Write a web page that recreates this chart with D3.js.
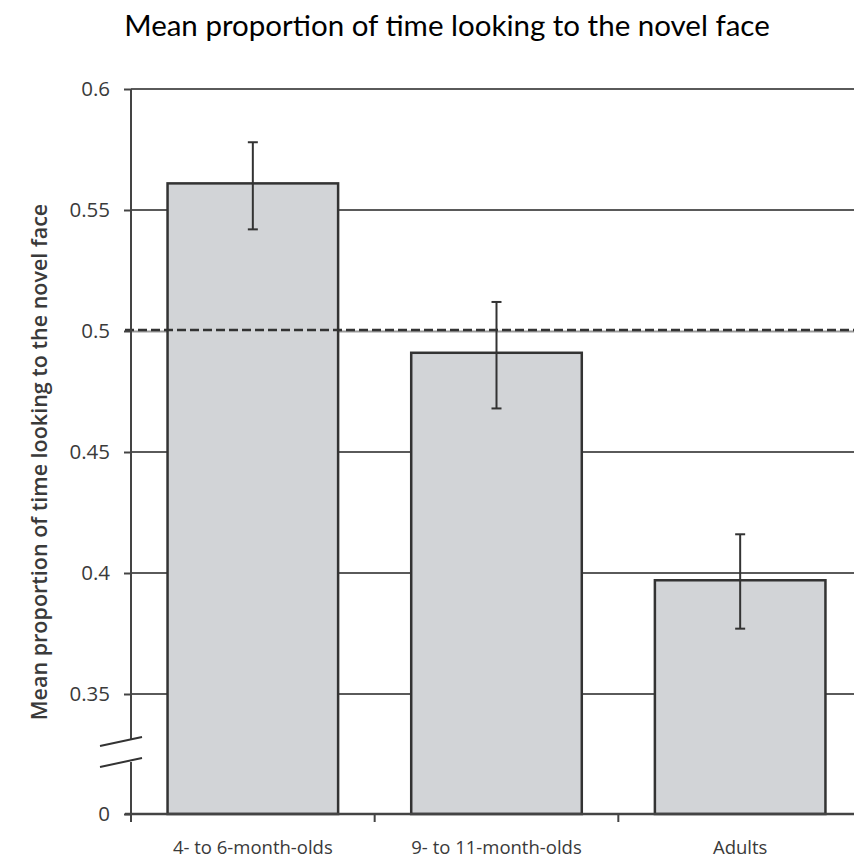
<!DOCTYPE html>
<html>
<head>
<meta charset="utf-8">
<script src="https://cdn.jsdelivr.net/npm/d3@7"></script>
<style>
  html, body { margin: 0; padding: 0; background: #fff; }
  svg { display: block; }
  text { font-family: "Open Sans", "Noto Sans", sans-serif; }
</style>
</head>
<body>
<svg id="chart" width="854" height="863"></svg>
<script>
// Groups and their mean proportion of looking time to the novel face
const categories = ["4- to 6-month-olds", "9- to 11-month-olds", "Adults"];
const means = [0.561, 0.491, 0.397];
const errLow = [0.542, 0.468, 0.377];
const errHigh = [0.578, 0.512, 0.416];
const chanceLevel = 0.5;
const yTickValues = [0, 0.35, 0.4, 0.45, 0.5, 0.55, 0.6];
const gridValues = [0.35, 0.4, 0.45, 0.55, 0.6];

const svg = d3.select("#chart");

const axisX = 131;
const rightEdge = 862;
const baseY = 814;

// Broken value axis: 0 sits below a break, then 0.35–0.6 is linear
const y = d3.scaleLinear()
  .domain([0, 0.35, 0.6])
  .range([baseY, 694, 89]);

const x = d3.scaleBand()
  .domain(categories)
  .range([axisX, rightEdge])
  .paddingInner(0.3)
  .paddingOuter(0.15);

const ink = "#3a3a3a";

// Title
svg.append("text")
  .attr("x", 447)
  .attr("y", 36)
  .attr("text-anchor", "middle")
  .style("font-family", "Lato, 'Open Sans', sans-serif")
  .attr("font-size", 29.5)
  .attr("fill", "#000")
  .text("Mean proportion of time looking to the novel face");

// Horizontal gridlines
svg.append("g")
  .selectAll("line")
  .data(gridValues)
  .join("line")
  .attr("x1", axisX)
  .attr("x2", 854)
  .attr("y1", d => y(d))
  .attr("y2", d => y(d))
  .attr("stroke", "#5a5a5a")
  .attr("stroke-width", 2);

// Lighter gridline under the chance-level line
svg.append("line")
  .attr("x1", axisX)
  .attr("x2", 854)
  .attr("y1", y(chanceLevel) + 0.5)
  .attr("y2", y(chanceLevel) + 0.5)
  .attr("stroke", "#9a9a9a")
  .attr("stroke-width", 2);

// Bars
svg.append("g")
  .selectAll("rect")
  .data(categories)
  .join("rect")
  .attr("x", d => x(d))
  .attr("y", (d, i) => y(means[i]))
  .attr("width", x.bandwidth())
  .attr("height", (d, i) => baseY - y(means[i]))
  .attr("fill", "#d2d4d7")
  .attr("stroke", "#333")
  .attr("stroke-width", 2.5);

// Error bars
const eb = svg.append("g")
  .selectAll("g")
  .data(categories)
  .join("g")
  .attr("stroke", "#333")
  .attr("stroke-width", 2);
eb.append("line")
  .attr("x1", d => x(d) + x.bandwidth() / 2)
  .attr("x2", d => x(d) + x.bandwidth() / 2)
  .attr("y1", (d, i) => y(errLow[i]))
  .attr("y2", (d, i) => y(errHigh[i]));
eb.append("line")
  .attr("x1", d => x(d) + x.bandwidth() / 2 - 5)
  .attr("x2", d => x(d) + x.bandwidth() / 2 + 5)
  .attr("y1", (d, i) => y(errHigh[i]))
  .attr("y2", (d, i) => y(errHigh[i]));
eb.append("line")
  .attr("x1", d => x(d) + x.bandwidth() / 2 - 5)
  .attr("x2", d => x(d) + x.bandwidth() / 2 + 5)
  .attr("y1", (d, i) => y(errLow[i]))
  .attr("y2", (d, i) => y(errLow[i]));

// Chance level reference line
svg.append("line")
  .attr("x1", 125)
  .attr("x2", 854)
  .attr("y1", y(chanceLevel) - 1)
  .attr("y2", y(chanceLevel) - 1)
  .attr("stroke", "#333")
  .attr("stroke-width", 2.5)
  .attr("stroke-dasharray", "9,4");

// Value axis ticks and labels
const yAxis = svg.append("g")
  .attr("transform", `translate(${axisX},0)`)
  .call(d3.axisLeft(y).tickValues(yTickValues).tickSize(7).tickPadding(14)
    .tickFormat(d => String(d)));
yAxis.select(".domain").remove();
yAxis.selectAll(".tick line").attr("stroke", "#444").attr("stroke-width", 2);
yAxis.selectAll(".tick text")
  .attr("fill", ink)
  .style("font-size", "20.5px")
  .style("font-family", "'Open Sans', sans-serif");

// Value axis line with a break between 0 and 0.35
svg.append("line")
  .attr("x1", axisX).attr("x2", axisX)
  .attr("y1", y(0.6)).attr("y2", 740)
  .attr("stroke", "#444").attr("stroke-width", 2);
svg.append("line")
  .attr("x1", axisX).attr("x2", axisX)
  .attr("y1", 762).attr("y2", baseY + 8)
  .attr("stroke", "#444").attr("stroke-width", 2);
svg.append("g")
  .attr("stroke", "#333")
  .attr("stroke-width", 2)
  .selectAll("line")
  .data([0, 21])
  .join("line")
  .attr("x1", 100).attr("x2", 142)
  .attr("y1", d => 746 + d).attr("y2", d => 737 + d);

// Category axis
const xAxisG = svg.append("g")
  .attr("transform", `translate(0,${baseY})`);
xAxisG.append("line")
  .attr("x1", 125).attr("x2", 854)
  .attr("stroke", "#444").attr("stroke-width", 2.5);
const step = x.step();
xAxisG.selectAll("line.sep")
  .data(d3.range(1, categories.length))
  .join("line")
  .attr("class", "sep")
  .attr("x1", i => axisX + i * step)
  .attr("x2", i => axisX + i * step)
  .attr("y1", 0).attr("y2", 8)
  .attr("stroke", "#444").attr("stroke-width", 2);
xAxisG.selectAll("text")
  .data(categories)
  .join("text")
  .attr("x", d => x(d) + x.bandwidth() / 2)
  .attr("y", 40)
  .attr("text-anchor", "middle")
  .attr("fill", ink)
  .attr("font-size", 18.5)
  .text(d => d);

// Value axis title
svg.append("text")
  .attr("transform", "translate(47,462) rotate(-90)")
  .attr("text-anchor", "middle")
  .attr("fill", ink)
  .attr("font-size", 21.5)
  .attr("font-weight", 600)
  .text("Mean proportion of time looking to the novel face");
</script>
</body>
</html>
